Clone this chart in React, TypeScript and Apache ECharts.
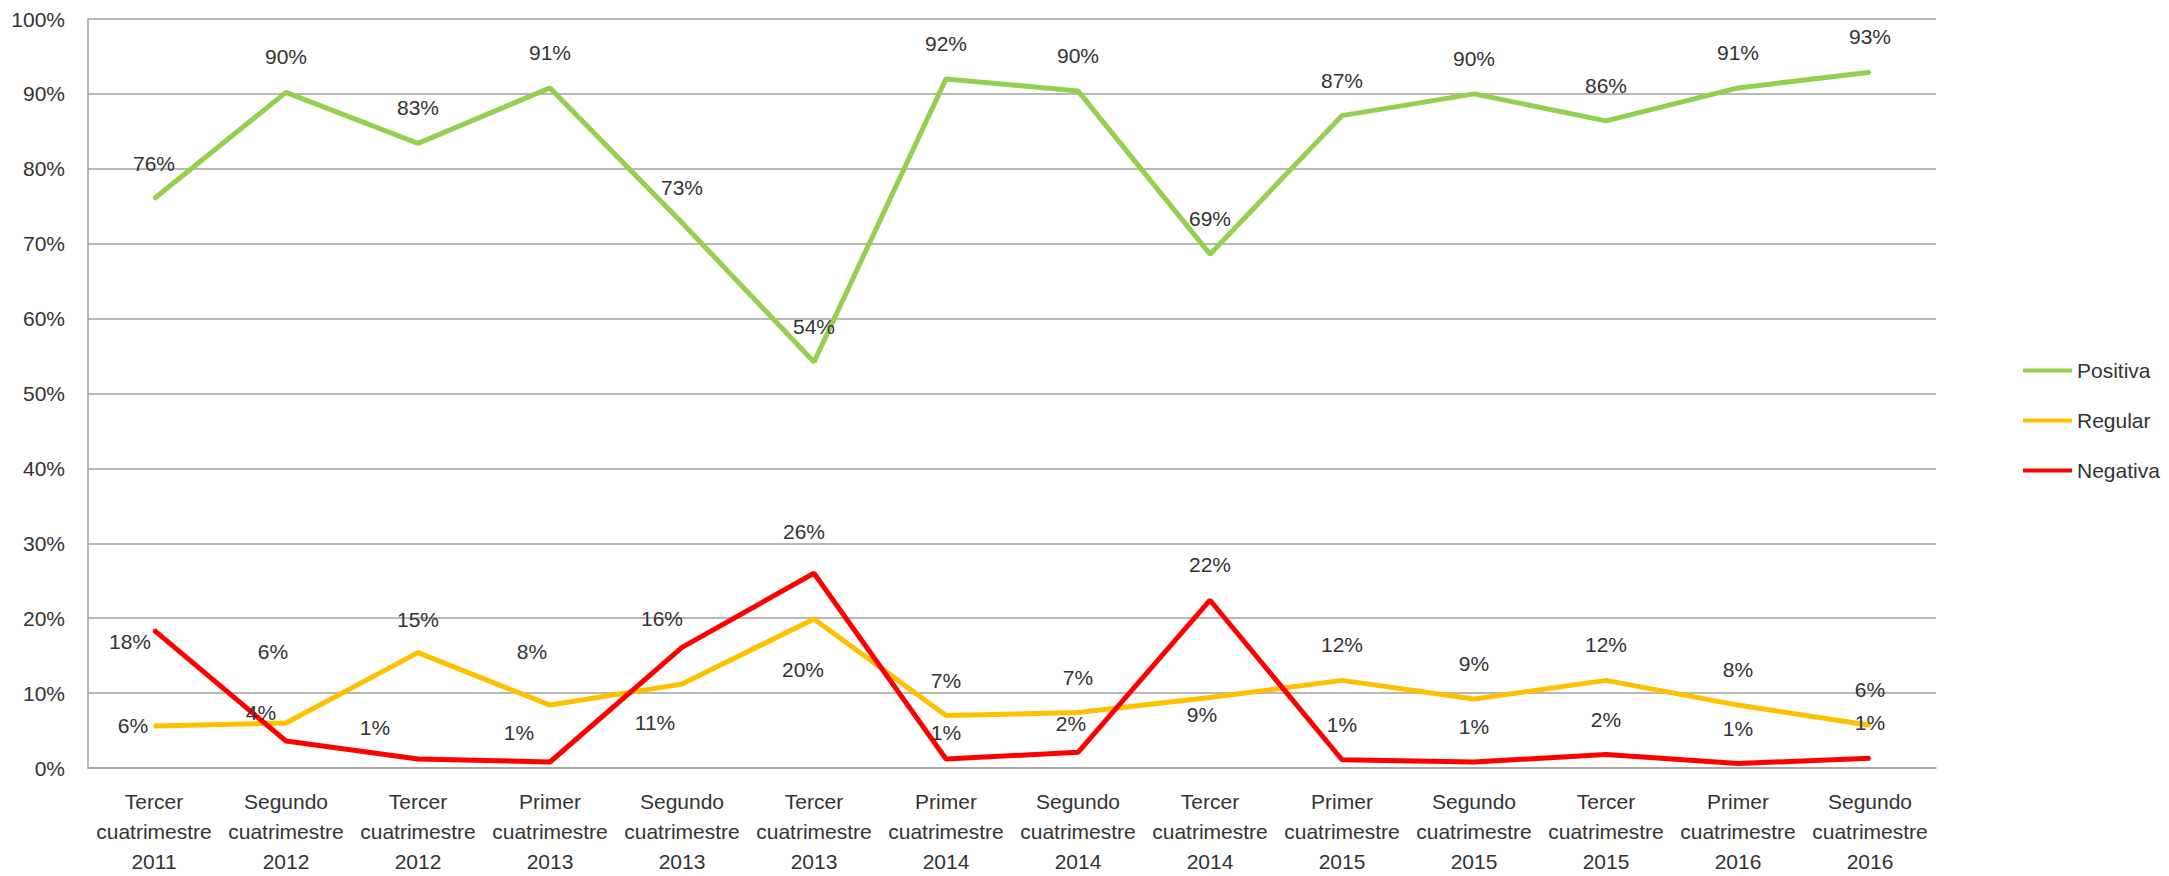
import React, { useEffect, useRef } from "react";
import * as echarts from "echarts";

const categories = [
  "Tercer\ncuatrimestre\n2011",
  "Segundo\ncuatrimestre\n2012",
  "Tercer\ncuatrimestre\n2012",
  "Primer\ncuatrimestre\n2013",
  "Segundo\ncuatrimestre\n2013",
  "Tercer\ncuatrimestre\n2013",
  "Primer\ncuatrimestre\n2014",
  "Segundo\ncuatrimestre\n2014",
  "Tercer\ncuatrimestre\n2014",
  "Primer\ncuatrimestre\n2015",
  "Segundo\ncuatrimestre\n2015",
  "Tercer\ncuatrimestre\n2015",
  "Primer\ncuatrimestre\n2016",
  "Segundo\ncuatrimestre\n2016",
];

const positiva = [76.0, 90.2, 83.4, 90.8, 72.8, 54.2, 92.0, 90.4, 68.6, 87.1, 90.0, 86.4, 90.8, 92.9];
const regular = [5.6, 6.0, 15.4, 8.4, 11.2, 19.9, 7.0, 7.4, 9.4, 11.7, 9.2, 11.7, 8.4, 5.7];
const negativa = [18.4, 3.6, 1.2, 0.8, 16.1, 26.0, 1.2, 2.1, 22.4, 1.1, 0.8, 1.8, 0.6, 1.3];

const yTicks = { min: 0, max: 100, interval: 10 };

// label nudges relative to the default "above the point" placement
const positivaLabelOffsets: number[][] = [
  [0, 0], [0, 0], [0, 0], [0, 0], [0, 0], [0, 0], [0, 0],
  [0, 0], [0, 0], [0, 0], [0, 0], [0, 0], [0, 0], [0, 0],
];
const regularLabelOffsets: number[][] = [
  [-21, 35], [-13, -36], [0, 2], [-18, -18], [-27, 74], [-11, 86], [0, 0],
  [0, 0], [-8, 52], [0, 0], [0, 0], [0, 0], [0, 0], [0, 0],
];
const negativaLabelOffsets: number[][] = [
  [-24, 47], [-25, 7], [-43, 4], [-31, 6], [-20, 7], [-10, -6], [0, 9],
  [-7, 7], [0, 0], [0, 0], [0, 0], [0, 0], [0, 0], [0, 0],
];

const FONT = "'Liberation Sans Narrow', 'Arial Narrow', 'Liberation Sans', sans-serif";
const TEXT = "#333333";

function makeSeries(name: string, values: number[], offsets: number[][], color: string) {
  return {
    name,
    type: "line",
    symbol: "circle",
    symbolSize: 2,
    showSymbol: true,
    itemStyle: { color },
    lineStyle: { color, width: 5 },
    label: {
      show: true,
      position: "top",
      distance: 24,
      color: TEXT,
      fontFamily: FONT,
      fontSize: 21,
      formatter: (p: any) => `${Math.round(p.value)}%`,
    },
    data: values.map((v, i) => ({ value: v, label: { offset: offsets[i] } })),
  };
}

export default function App() {
  const ref = useRef<HTMLDivElement>(null);
  useEffect(() => {
    if (!ref.current) return;
    const chart = echarts.init(ref.current, undefined, { renderer: "svg" });
    chart.setOption({
      animation: false,
      backgroundColor: "#ffffff",
      textStyle: { fontFamily: FONT },
      grid: { left: 88, top: 19, right: 233, bottom: 106, containLabel: false },
      legend: {
        orient: "vertical",
        left: 2018,
        top: 355,
        icon: "rect",
        itemWidth: 49,
        itemHeight: 4,
        itemGap: 29,
        textStyle: { color: TEXT, fontFamily: FONT, fontSize: 21, lineHeight: 20 },
        data: ["Positiva", "Regular", "Negativa"],
      },
      xAxis: {
        type: "category",
        data: categories,
        boundaryGap: true,
        axisLine: { show: true, lineStyle: { color: "#a0a0a0", width: 1.5 } },
        axisTick: { show: false },
        axisLabel: {
          interval: 0,
          margin: 18,
          color: TEXT,
          fontFamily: FONT,
          fontSize: 21,
          lineHeight: 30,
        },
      },
      yAxis: {
        type: "value",
        min: yTicks.min,
        max: yTicks.max,
        interval: yTicks.interval,
        axisLine: { show: true, lineStyle: { color: "#a0a0a0", width: 1.5 } },
        axisTick: { show: false },
        splitLine: { show: true, lineStyle: { color: "#a0a0a0", width: 1.5 } },
        axisLabel: {
          margin: 23,
          color: TEXT,
          fontFamily: FONT,
          fontSize: 21,
          formatter: "{value}%",
        },
      },
      series: [
        makeSeries("Positiva", positiva, positivaLabelOffsets, "#92D050"),
        makeSeries("Regular", regular, regularLabelOffsets, "#FFC000"),
        makeSeries("Negativa", negativa, negativaLabelOffsets, "#FF0000"),
      ],
    });
    return () => chart.dispose();
  }, []);
  return (
    <div
      ref={ref}
      style={{ position: "fixed", left: 0, top: 0, width: 2169, height: 876, background: "#fff" }}
    />
  );
}
